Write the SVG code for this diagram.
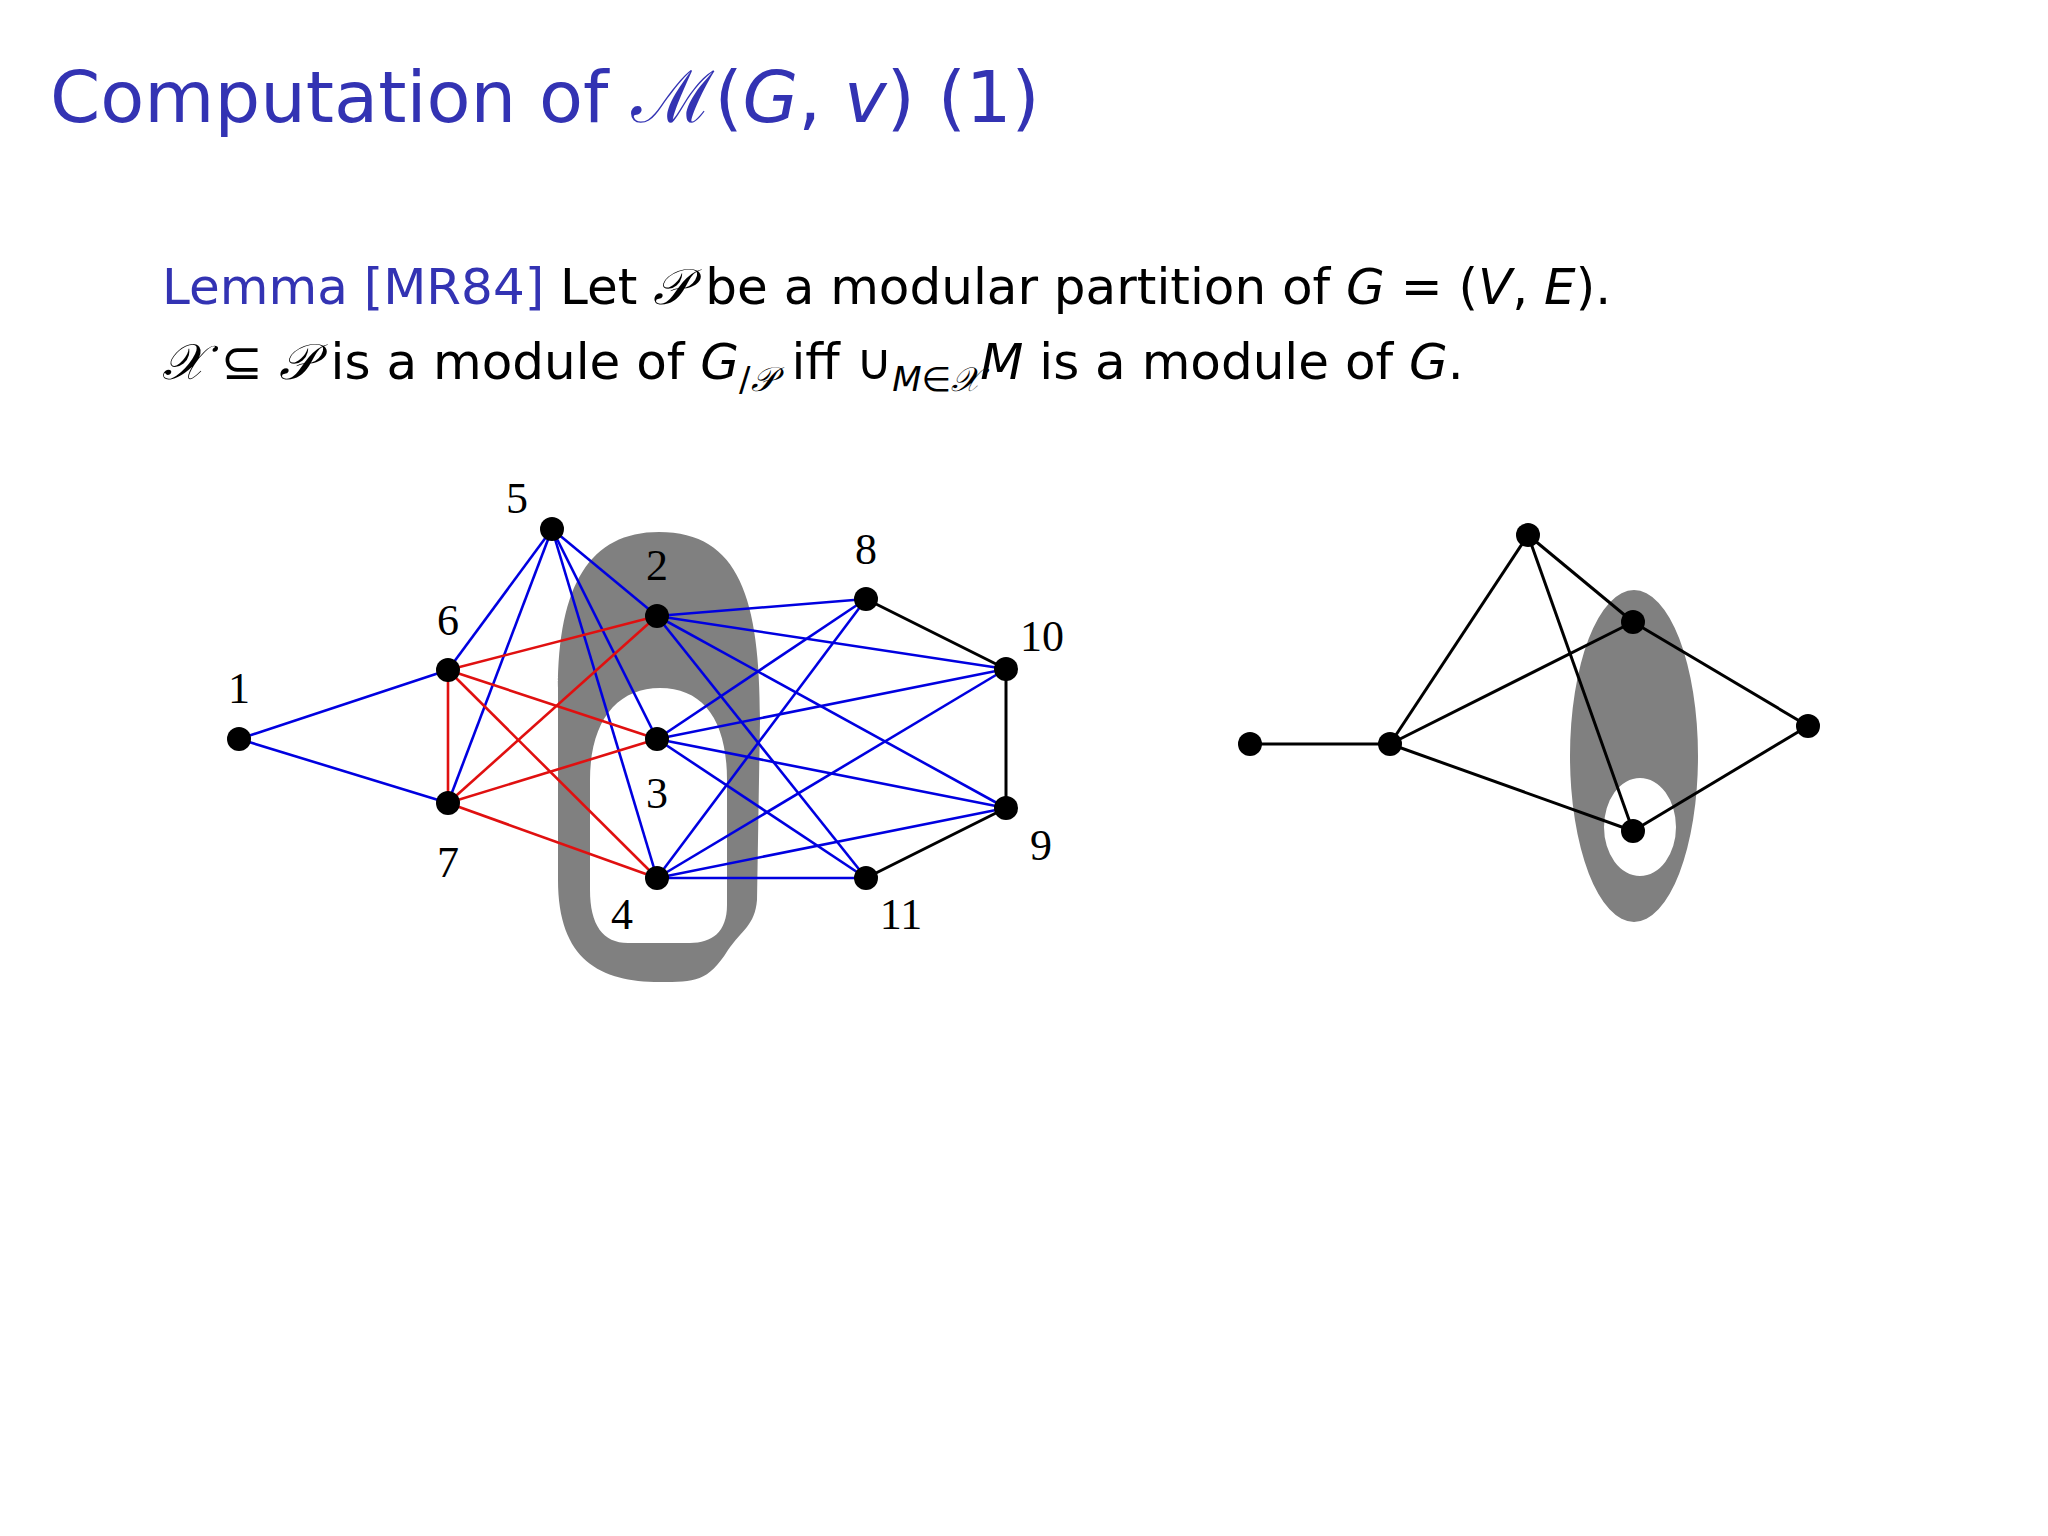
<svg xmlns="http://www.w3.org/2000/svg" width="2048" height="1536" viewBox="0 0 2048 1536">
<style>
.t{font-family:"DejaVu Sans","Noto Sans",sans-serif;fill:#000}
.i{font-style:italic}
.s{font-family:"DejaVu Serif","Noto Sans",serif;font-style:italic}
.lbl{font-family:"Liberation Serif","Times New Roman",serif;font-size:44px;text-anchor:middle;fill:#000}
.b{stroke:#0000e0;stroke-width:2.6}
.r{stroke:#e01010;stroke-width:2.6}
.k{stroke:#000;stroke-width:3}
circle{fill:#000}
</style>
<rect width="2048" height="1536" fill="#fff"/>
<text x="50" y="122" class="t" font-size="72" fill="#3333b3" style="fill:#3333b3">Computation of <tspan class="s">ℳ</tspan>(<tspan class="i">G</tspan>, <tspan class="i">v</tspan>) (1)</text>
<text x="162" y="304" class="t" font-size="50"><tspan style="fill:#3333b3">Lemma [MR84]</tspan> Let <tspan class="s">𝒫</tspan> be a modular partition of <tspan class="i">G</tspan> = (<tspan class="i">V</tspan>, <tspan class="i">E</tspan>).</text>
<text x="162" y="379" class="t" font-size="50"><tspan class="s">𝒳</tspan> ⊆ <tspan class="s">𝒫</tspan> is a module of <tspan class="i">G</tspan><tspan font-size="34" dy="12">/<tspan class="s">𝒫</tspan></tspan><tspan dy="-12"> iff ∪</tspan><tspan font-size="34" dy="12" class="i">M</tspan><tspan font-size="34">∈</tspan><tspan font-size="34" class="s">𝒳</tspan><tspan dy="-12" class="i">M</tspan> is a module of <tspan class="i">G</tspan>.</text>
<g id="module-left">
<path fill="#808080" fill-rule="evenodd" d="M659 532 C740 532 760 600 760 720 L757 900 C755 925 742 930 728 950 C708 982 695 982 660 982 C600 982 558 960 558 880 L558 690 C558 585 590 532 659 532 Z M660 688 C703 688 727 720 727 780 L727 905 C727 932 712 943 690 943 L628 943 C603 943 590 925 590 890 L590 780 C590 720 618 688 660 688 Z"/>
</g>
<g id="module-right">
<path fill="#808080" fill-rule="evenodd" d="M1698 756 A64 166 0 1 1 1570 756 A64 166 0 1 1 1698 756 Z M1676 827 A36 49 0 1 0 1604 827 A36 49 0 1 0 1676 827 Z"/>
</g>
<g id="connectors">
<line class="b" x1="239" y1="739" x2="448" y2="670"/>
<line class="b" x1="239" y1="739" x2="448" y2="803"/>
<line class="b" x1="552" y1="529" x2="448" y2="670"/>
<line class="b" x1="552" y1="529" x2="448" y2="803"/>
<line class="b" x1="552" y1="529" x2="657" y2="616"/>
<line class="b" x1="552" y1="529" x2="657" y2="739"/>
<line class="b" x1="552" y1="529" x2="657" y2="878"/>
<line class="b" x1="657" y1="616" x2="866" y2="599"/>
<line class="b" x1="657" y1="616" x2="1006" y2="669"/>
<line class="b" x1="657" y1="616" x2="1006" y2="808"/>
<line class="b" x1="657" y1="616" x2="866" y2="878"/>
<line class="b" x1="657" y1="739" x2="866" y2="599"/>
<line class="b" x1="657" y1="739" x2="1006" y2="669"/>
<line class="b" x1="657" y1="739" x2="1006" y2="808"/>
<line class="b" x1="657" y1="739" x2="866" y2="878"/>
<line class="b" x1="657" y1="878" x2="866" y2="599"/>
<line class="b" x1="657" y1="878" x2="1006" y2="669"/>
<line class="b" x1="657" y1="878" x2="1006" y2="808"/>
<line class="b" x1="657" y1="878" x2="866" y2="878"/>
<line class="r" x1="448" y1="670" x2="657" y2="616"/>
<line class="r" x1="448" y1="670" x2="657" y2="739"/>
<line class="r" x1="448" y1="670" x2="657" y2="878"/>
<line class="r" x1="448" y1="670" x2="448" y2="803"/>
<line class="r" x1="448" y1="803" x2="657" y2="616"/>
<line class="r" x1="448" y1="803" x2="657" y2="739"/>
<line class="r" x1="448" y1="803" x2="657" y2="878"/>
<line class="k" x1="866" y1="599" x2="1006" y2="669"/>
<line class="k" x1="1006" y1="669" x2="1006" y2="808"/>
<line class="k" x1="1006" y1="808" x2="866" y2="878"/>
<line class="k" x1="1250" y1="744" x2="1390" y2="744"/>
<line class="k" x1="1390" y1="744" x2="1528" y2="535"/>
<line class="k" x1="1390" y1="744" x2="1633" y2="622"/>
<line class="k" x1="1390" y1="744" x2="1633" y2="831"/>
<line class="k" x1="1528" y1="535" x2="1633" y2="622"/>
<line class="k" x1="1528" y1="535" x2="1633" y2="831"/>
<line class="k" x1="1633" y1="622" x2="1808" y2="726"/>
<line class="k" x1="1808" y1="726" x2="1633" y2="831"/>
</g>
<g id="n1"><circle cx="239" cy="739" r="12"/><text class="lbl" x="239" y="703">1</text></g>
<g id="n6"><circle cx="448" cy="670" r="12"/><text class="lbl" x="448" y="635">6</text></g>
<g id="n7"><circle cx="448" cy="803" r="12"/><text class="lbl" x="448" y="877">7</text></g>
<g id="n5"><circle cx="552" cy="529" r="12"/><text class="lbl" x="517" y="513">5</text></g>
<g id="n2"><circle cx="657" cy="616" r="12"/><text class="lbl" x="657" y="580">2</text></g>
<g id="n3"><circle cx="657" cy="739" r="12"/><text class="lbl" x="657" y="808">3</text></g>
<g id="n4"><circle cx="657" cy="878" r="12"/><text class="lbl" x="622" y="929">4</text></g>
<g id="n8"><circle cx="866" cy="599" r="12"/><text class="lbl" x="866" y="564">8</text></g>
<g id="n10"><circle cx="1006" cy="669" r="12"/><text class="lbl" x="1042" y="651">10</text></g>
<g id="n9"><circle cx="1006" cy="808" r="12"/><text class="lbl" x="1041" y="860">9</text></g>
<g id="n11"><circle cx="866" cy="878" r="12"/><text class="lbl" x="901" y="929">11</text></g>
<g id="q1"><circle cx="1250" cy="744" r="12"/></g>
<g id="q2"><circle cx="1390" cy="744" r="12"/></g>
<g id="q3"><circle cx="1528" cy="535" r="12"/></g>
<g id="q4"><circle cx="1633" cy="622" r="12"/></g>
<g id="q5"><circle cx="1808" cy="726" r="12"/></g>
<g id="q6"><circle cx="1633" cy="831" r="12"/></g>
</svg>
